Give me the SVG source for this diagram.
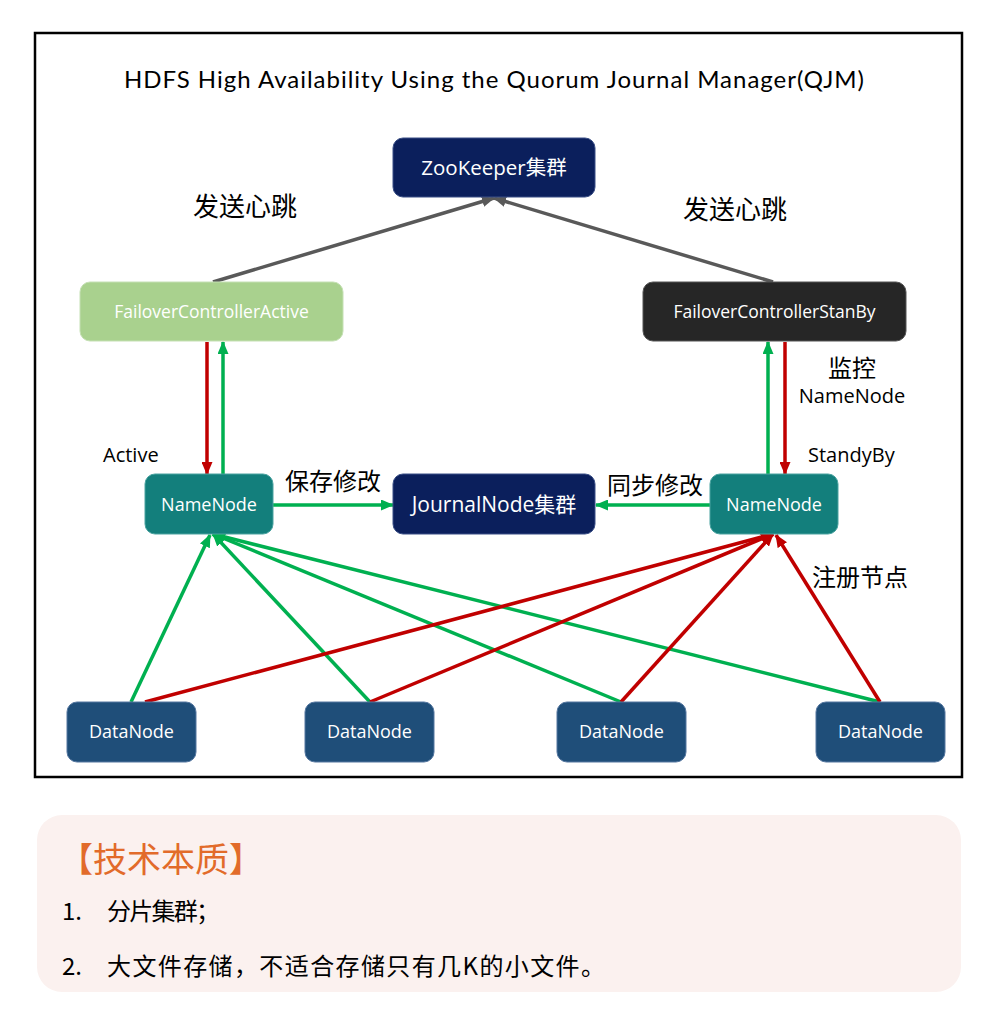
<svg xmlns="http://www.w3.org/2000/svg" width="997" height="1011" viewBox="0 0 997 1011">
<style>
.lbl{font-family:"Open Sans","Noto Sans CJK SC",sans-serif;fill:#000}
.cjk{font-family:"Noto Sans CJK SC","Open Sans",sans-serif;fill:#000}
.nt{font-family:"Open Sans","Noto Sans CJK SC",sans-serif;fill:#fff;text-anchor:middle}
.navy{fill:#0b1f5c;stroke:#3a4f86;stroke-width:1}
.teal{fill:#137f7c;stroke:#4aa3a0;stroke-width:1}
.dn{fill:#1f4e79;stroke:#5577a0;stroke-width:1}
.c{fill:none;stroke-width:3.5}
.g{stroke:#00b050}
.r{stroke:#c00000}
.gr{stroke:#595959}
</style>
<defs>
<marker id="ag" markerUnits="userSpaceOnUse" viewBox="0 0 13 11" markerWidth="13" markerHeight="11" refX="12" refY="5.5" orient="auto"><path d="M0,0 L13,5.5 L0,11 z" fill="#00b050"/></marker>
<marker id="ar" markerUnits="userSpaceOnUse" viewBox="0 0 13 11" markerWidth="13" markerHeight="11" refX="12" refY="5.5" orient="auto"><path d="M0,0 L13,5.5 L0,11 z" fill="#c00000"/></marker>
<marker id="agr" markerUnits="userSpaceOnUse" viewBox="0 0 13 11" markerWidth="13" markerHeight="11" refX="12" refY="5.5" orient="auto"><path d="M0,0 L13,5.5 L0,11 z" fill="#595959"/></marker>
</defs>
<rect width="997" height="1011" fill="#fff"/>
<rect x="35" y="33" width="927" height="744" fill="#fff" stroke="#000" stroke-width="2.5"/>
<text x="494" y="88" font-family="Lato,'Open Sans',sans-serif" font-size="24" text-anchor="middle" textLength="740" lengthAdjust="spacing" fill="#000">HDFS High Availability Using the Quorum Journal Manager(QJM)</text>

<g id="connectors">
<line class="c gr" x1="213" y1="282" x2="494" y2="198" marker-end="url(#agr)"/>
<line class="c gr" x1="773" y1="282" x2="494" y2="198" marker-end="url(#agr)"/>
<line class="c r" x1="207" y1="342" x2="207" y2="474" marker-end="url(#ar)"/>
<line class="c g" x1="223" y1="474" x2="223" y2="342" marker-end="url(#ag)"/>
<line class="c g" x1="768" y1="474" x2="768" y2="342" marker-end="url(#ag)"/>
<line class="c r" x1="785" y1="342" x2="785" y2="474" marker-end="url(#ar)"/>
<line class="c g" x1="273" y1="505" x2="393" y2="505" marker-end="url(#ag)"/>
<line class="c g" x1="710" y1="505" x2="596" y2="505" marker-end="url(#ag)"/>
<line class="c g" x1="131" y1="702" x2="210" y2="535" marker-end="url(#ag)"/>
<line class="c g" x1="370" y1="702" x2="213" y2="534" marker-end="url(#ag)"/>
<line class="c g" x1="621" y1="702" x2="213" y2="534" marker-end="url(#ag)"/>
<line class="c g" x1="880" y1="702" x2="213" y2="534" marker-end="url(#ag)"/>
<line class="c r" x1="145" y1="702" x2="773" y2="534" marker-end="url(#ar)"/>
<line class="c r" x1="370" y1="702" x2="773" y2="534" marker-end="url(#ar)"/>
<line class="c r" x1="621" y1="702" x2="773" y2="534" marker-end="url(#ar)"/>
<line class="c r" x1="880" y1="702" x2="776" y2="535" marker-end="url(#ar)"/>
</g>

<g id="zookeeper"><rect class="navy" x="393" y="138" width="202" height="59" rx="10"/><text class="nt" x="494" y="175" font-size="20.5">ZooKeeper集群</text></g>
<g id="fc-active"><rect x="80" y="282" width="263" height="59" rx="10" fill="#a9d18e" stroke="#c5e0b4" stroke-width="1"/><text class="nt" x="211.5" y="318" font-size="17.5">FailoverControllerActive</text></g>
<g id="fc-standby"><rect x="643" y="282" width="263" height="59" rx="10" fill="#262626" stroke="#555" stroke-width="1"/><text class="nt" x="774.5" y="318" font-size="17.5">FailoverControllerStanBy</text></g>
<g id="namenode-active"><rect class="teal" x="145" y="474" width="128" height="60" rx="10"/><text class="nt" x="209" y="511" font-size="18">NameNode</text></g>
<g id="journalnode"><rect class="navy" x="393" y="474" width="202" height="60" rx="10"/><text class="nt" x="494" y="512" font-size="21">JournalNode集群</text></g>
<g id="namenode-standby"><rect class="teal" x="710" y="474" width="128" height="60" rx="10"/><text class="nt" x="774" y="511" font-size="18">NameNode</text></g>
<g id="datanode1"><rect class="dn" x="67" y="702" width="129" height="60" rx="10"/><text class="nt" x="131.5" y="738" font-size="18">DataNode</text></g>
<g id="datanode2"><rect class="dn" x="305" y="702" width="129" height="60" rx="10"/><text class="nt" x="369.5" y="738" font-size="18">DataNode</text></g>
<g id="datanode3"><rect class="dn" x="557" y="702" width="129" height="60" rx="10"/><text class="nt" x="621.5" y="738" font-size="18">DataNode</text></g>
<g id="datanode4"><rect class="dn" x="816" y="702" width="129" height="60" rx="10"/><text class="nt" x="880.5" y="738" font-size="18">DataNode</text></g>

<g id="labels">
<text class="cjk" x="245" y="216" font-size="26" text-anchor="middle">发送心跳</text>
<text class="cjk" x="735" y="219" font-size="26" text-anchor="middle">发送心跳</text>
<text class="lbl" x="103" y="462" font-size="20">Active</text>
<text class="lbl" x="808" y="462" font-size="20">StandyBy</text>
<text class="cjk" x="852" y="377" font-size="24" text-anchor="middle">监控</text>
<text class="lbl" x="852" y="403" font-size="20" text-anchor="middle">NameNode</text>
<text class="cjk" x="333" y="490" font-size="24" text-anchor="middle">保存修改</text>
<text class="cjk" x="655" y="494" font-size="24" text-anchor="middle">同步修改</text>
<text class="cjk" x="860" y="586" font-size="24" text-anchor="middle">注册节点</text>
</g>

<g id="summary">
<rect x="37" y="815" width="924" height="177" rx="25" fill="#fbf1ef"/>
<text x="59" y="872" font-family="'Noto Sans CJK SC',sans-serif" font-size="34" fill="#e26b2a">【技术本质】</text>
<text class="cjk" x="62" y="920" font-size="24">1.</text>
<text class="cjk" x="107" y="920" font-size="24" textLength="113" lengthAdjust="spacing">分片集群；</text>
<text class="cjk" x="62" y="975" font-size="24">2.</text>
<text class="cjk" x="107" y="975" font-size="24" textLength="498" lengthAdjust="spacing">大文件存储，不适合存储只有几K的小文件。</text>
</g>
</svg>
